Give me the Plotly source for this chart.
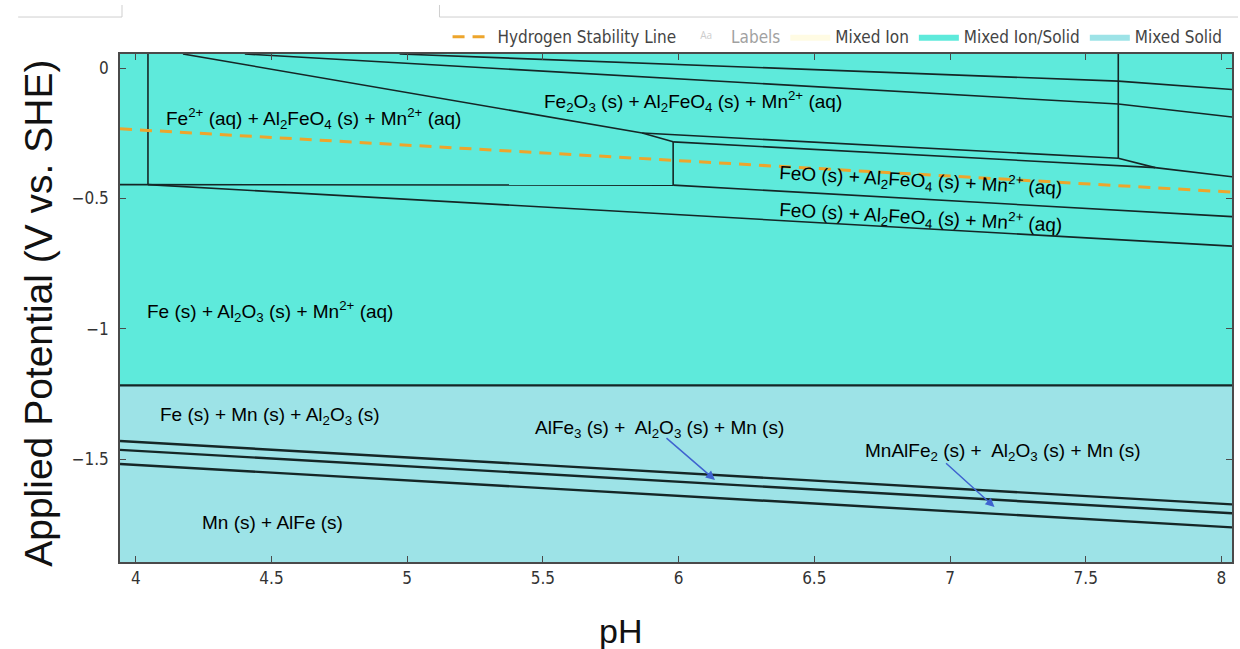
import plotly.graph_objects as go

# Axis extents (pH, V vs. SHE)
ph_range = [3.942, 8.039]
e_range = [-1.895, 0.054]

# Potential separating the ion/solid domain from the all-solid domain
ion_solid_floor = -1.217

# Hydrogen stability line endpoints
h2_ph = [3.942, 8.039]
h2_e = [-0.233, -0.476]

# Domain boundaries in the upper (ion/solid) field
t1_ph, t1_e = [4.972, 7.620, 8.039], [0.054, -0.050, -0.082]
t2_ph, t2_e = [4.402, 7.620, 8.039], [0.054, -0.138, -0.188]
fe2_top_ph, fe2_top_e = [4.174, 5.866, 5.980], [0.054, -0.249, -0.283]
fe2o3_low_ph, fe2o3_low_e = [5.866, 7.620], [-0.249, -0.346]
feo_top_ph, feo_top_e = [5.980, 7.756, 8.039], [-0.283, -0.382, -0.417]
kink_ph, kink_e = [7.620, 7.756], [-0.346, -0.382]
v1_ph, v1_e = [4.045, 4.045], [0.054, -0.447]
v2_ph, v2_e = [5.980, 5.980], [-0.283, -0.449]
v3_ph, v3_e = [7.620, 7.620], [0.054, -0.346]
fe2_low_ph, fe2_low_e = [3.942, 5.980], [-0.447, -0.449]
feo_mid_ph, feo_mid_e = [5.980, 8.039], [-0.449, -0.570]
fe_top_ph, fe_top_e = [4.045, 8.039], [-0.447, -0.683]

# Boundaries in the lower (all-solid) field
solid_ph = [3.942, 8.039]
solid1_e = [-1.431, -1.674]
solid2_e = [-1.465, -1.708]
solid3_e = [-1.519, -1.762]

upper_lines = [
    (t1_ph, t1_e), (t2_ph, t2_e), (fe2_top_ph, fe2_top_e),
    (fe2o3_low_ph, fe2o3_low_e), (feo_top_ph, feo_top_e), (kink_ph, kink_e),
    (v1_ph, v1_e), (v2_ph, v2_e), (v3_ph, v3_e), (fe2_low_ph, fe2_low_e),
    (feo_mid_ph, feo_mid_e), (fe_top_ph, fe_top_e),
]

ION_SOLID = "#5EEADB"
SOLID = "#9DE3E7"
MIXED_ION = "#FFFBE3"
H2_COLOR = "#EDA52C"
LINE = "#152626"
LEGEND_FONT = "DejaVu Sans Condensed, Liberation Sans Narrow, DejaVu Sans, sans-serif"
LABEL_FONT = "Liberation Sans, Arial, sans-serif"

fig = go.Figure()

x0, x1 = ph_range
y0, y1 = e_range

# Filled domains
fig.add_trace(go.Scatter(
    x=[x0, x1, x1, x0, x0], y=[y1, y1, ion_solid_floor, ion_solid_floor, y1],
    fill="toself", fillcolor=ION_SOLID, mode="lines", line=dict(width=0),
    name="Mixed Ion/Solid", legendrank=4, hoverinfo="skip"))
fig.add_trace(go.Scatter(
    x=[x0, x1, x1, x0, x0], y=[ion_solid_floor, ion_solid_floor, y0, y0, ion_solid_floor],
    fill="toself", fillcolor=SOLID, mode="lines", line=dict(width=0),
    name="Mixed Solid", legendrank=5, hoverinfo="skip"))
# No pure-ion domain inside this window; entry kept for the legend
fig.add_trace(go.Scatter(
    x=[10, 11, 11, 10], y=[5, 5, 6, 6],
    fill="toself", fillcolor=MIXED_ION, mode="lines", line=dict(width=0),
    name="Mixed Ion", legendrank=3, hoverinfo="skip"))
fig.add_trace(go.Scatter(
    x=[6], y=[-1], mode="text", text=["Aa"], textfont=dict(color="#9a9a9a"),
    name="Labels", legendrank=2, visible="legendonly"))

for xs, ys in upper_lines:
    fig.add_trace(go.Scatter(x=xs, y=ys, mode="lines",
                             line=dict(color=LINE, width=1.6),
                             showlegend=False, hoverinfo="skip"))

fig.add_trace(go.Scatter(x=ph_range, y=[ion_solid_floor, ion_solid_floor], mode="lines",
                         line=dict(color=LINE, width=2.2), showlegend=False, hoverinfo="skip"))
for ys in (solid1_e, solid2_e, solid3_e):
    fig.add_trace(go.Scatter(x=solid_ph, y=ys, mode="lines",
                             line=dict(color=LINE, width=2.4),
                             showlegend=False, hoverinfo="skip"))

fig.add_trace(go.Scatter(
    x=h2_ph, y=h2_e, mode="lines", name="Hydrogen Stability Line", legendrank=1,
    line=dict(color=H2_COLOR, width=3, dash="12px,8px"), hoverinfo="skip"))

# Phase labels
labels = [
    (4.656, -0.192, "Fe<sup>2+</sup> (aq) + Al<sub>2</sub>FeO<sub>4</sub> (s) + Mn<sup>2+</sup> (aq)", 0),
    (6.053, -0.127, "Fe<sub>2</sub>O<sub>3</sub> (s) + Al<sub>2</sub>FeO<sub>4</sub> (s) + Mn<sup>2+</sup> (aq)", 0),
    (6.892, -0.433, "FeO (s) + Al<sub>2</sub>FeO<sub>4</sub> (s) + Mn<sup>2+</sup> (aq)", 3.2),
    (6.892, -0.575, "FeO (s) + Al<sub>2</sub>FeO<sub>4</sub> (s) + Mn<sup>2+</sup> (aq)", 3.2),
    (4.494, -0.932, "Fe (s) + Al<sub>2</sub>O<sub>3</sub> (s) + Mn<sup>2+</sup> (aq)", 0),
    (4.494, -1.335, "Fe (s) + Mn (s) + Al<sub>2</sub>O<sub>3</sub> (s)", 0),
    (5.928, -1.385, "AlFe<sub>3</sub> (s) +  Al<sub>2</sub>O<sub>3</sub> (s) + Mn (s)", 0),
    (7.197, -1.473, "MnAlFe<sub>2</sub> (s) +  Al<sub>2</sub>O<sub>3</sub> (s) + Mn (s)", 0),
    (4.505, -1.745, "Mn (s) + AlFe (s)", 0),
]
for x, y, txt, ang in labels:
    fig.add_annotation(x=x, y=y, xref="x", yref="y", text=txt, showarrow=False,
                       textangle=ang, font=dict(family=LABEL_FONT, size=19, color="#000000"))

# Pointer arrows to the thin solid bands
for (tx, ty), (hx, hy) in [((5.950, -1.415), (6.134, -1.580)),
                           ((6.980, -1.511), (7.164, -1.684))]:
    fig.add_annotation(x=hx, y=hy, ax=tx, ay=ty, xref="x", yref="y", axref="x", ayref="y",
                       text="", showarrow=True, arrowhead=2, arrowsize=1.2,
                       arrowwidth=1.5, arrowcolor="#3F63D0")

# Axis titles
fig.add_annotation(x=-0.074, y=0.49, xref="paper", yref="paper", text="Applied Potential (V vs. SHE)",
                   textangle=-90, showarrow=False, xanchor="center", yanchor="middle",
                   font=dict(family=LABEL_FONT, size=39, color="#111111"))
fig.add_annotation(x=0.45, y=-0.136, xref="paper", yref="paper", text="pH",
                   showarrow=False, xanchor="center", yanchor="middle",
                   font=dict(family=LABEL_FONT, size=34, color="#111111"))

# Thin frame fragments above the chart
for (xa, ya, xb, yb) in [(-0.0916, 1.0728, 0.0018, 1.0728), (0.0018, 1.0728, 0.0018, 1.0965),
                         (0.2873, 1.0728, 1.0054, 1.0728), (0.2873, 1.0728, 0.2873, 1.0965)]:
    fig.add_shape(type="line", xref="paper", yref="paper", x0=xa, y0=ya, x1=xb, y1=yb,
                  line=dict(color="#cfcfcf", width=1))

axis_common = dict(showgrid=False, zeroline=False, showline=True, linecolor="#4a4a4a",
                   linewidth=1.5, mirror="ticks", ticks="inside", ticklen=6,
                   tickcolor="#4a4a4a", tickfont=dict(family=LEGEND_FONT, size=17, color="#333333"))

fig.update_layout(
    width=1240, height=649,
    margin=dict(l=120, r=6, t=54, b=87),
    paper_bgcolor="white", plot_bgcolor="white",
    xaxis=dict(range=ph_range, dtick=0.5, tick0=4, **axis_common),
    yaxis=dict(range=e_range, dtick=0.5, tick0=0, ticklabelstandoff=6, **axis_common),
    legend=dict(orientation="h", x=0.996, y=1.033, xanchor="right", yanchor="middle",
                font=dict(family=LEGEND_FONT, size=17, color="#444444"),
                bgcolor="rgba(0,0,0,0)", itemwidth=40, traceorder="normal"),
    showlegend=True,
)

fig.write_html("out.html")
